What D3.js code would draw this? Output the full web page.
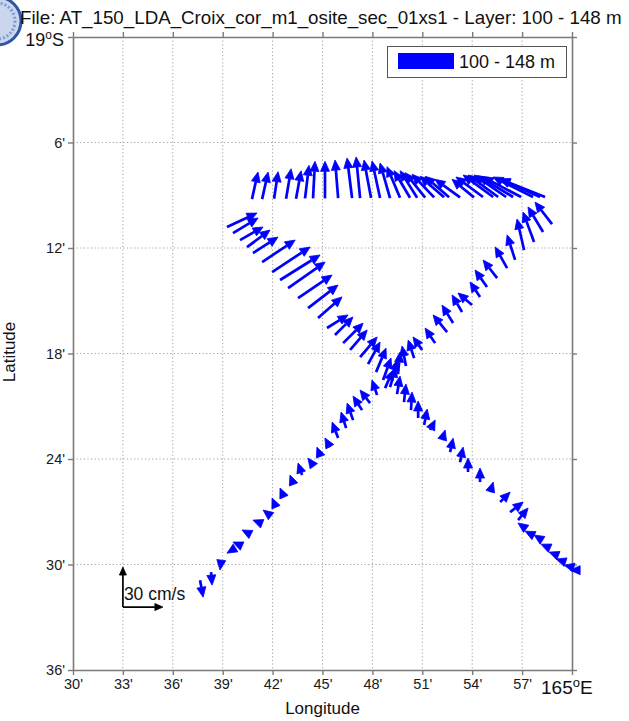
<!DOCTYPE html>
<html>
<head>
<meta charset="utf-8">
<script src="https://cdn.jsdelivr.net/npm/d3@7/dist/d3.min.js"></script>
<style>
  body { margin: 0; background: #fff; }
  svg { display: block; font-family: "Liberation Sans", Arial, sans-serif; }
</style>
</head>
<body>
<svg id="chart" width="629" height="721"></svg>
<script>
// ADCP currents, layer 100 - 148 m.
// Positions: minutes east of 164°E (lon) and minutes south of 19°S (lat).
// Currents: u (eastward) and v (northward) in cm/s.

// Northern leg (west -> east)
const northLon = [40.76, 41.37, 42.09, 42.81, 43.41, 43.95, 44.43, 45.15, 45.94, 46.78, 47.26, 47.92, 48.46, 49.06, 49.66, 50.26, 50.69, 51.17, 51.71, 52.31, 52.61, 53.27, 54.11, 54.65, 55.26, 55.56, 56.04, 56.46, 56.94, 57.66, 58.08, 58.38];
const northLat = [9.22, 9.22, 9.2, 9.2, 9.2, 9.18, 9.18, 9.18, 9.16, 9.16, 9.16, 9.16, 9.16, 9.16, 9.14, 9.14, 9.14, 9.14, 9.12, 9.12, 9.12, 9.12, 9.12, 9.1, 9.1, 9.1, 9.1, 9.1, 9.1, 9.1, 9.1, 9.1];
const northU = [4.5, 4.5, 3, 3.8, 3.8, 3, 1.5, 0, -2.3, -3.8, -3, -5.3, -6, -7.5, -9.8, -12, -12.8, -15, -16.5, -18, -18, -18.8, -16.5, -20.3, -22.5, -22.5, -24, -26.3, -28.5, -30, -30, -33.8];
const northV = [20.3, 20.3, 20.3, 22.5, 21, 24.8, 27.8, 27.8, 28.5, 30, 30.8, 28.5, 27.8, 26.3, 23.3, 20.3, 20.3, 18.8, 17.3, 15.8, 15.8, 13.5, 13.5, 15, 16.5, 16.5, 16.5, 15.8, 15, 15, 13.5, 13.5];

// Diagonal leg running north-east -> south-west
const swLon = [58.80, 58.26, 57.72, 57.12, 56.58, 56.10, 55.50, 54.89, 54.47, 53.99, 53.39, 52.85, 52.49, 51.77, 50.99, 50.51, 50.02, 49.54, 49.18, 48.76, 48.28, 47.86, 47.38, 46.84, 46.42, 45.94, 45.45, 44.85, 44.43, 43.77, 43.23, 42.63, 42.15, 41.67, 41.12, 40.52, 40.04, 39.56, 38.90, 38.30, 37.64];
const swLat = [10.64, 11.09, 11.66, 12.12, 12.68, 13.14, 13.71, 14.22, 14.79, 15.24, 15.64, 16.27, 16.78, 17.41, 17.80, 18.26, 18.71, 19.17, 19.51, 19.97, 20.36, 20.82, 21.22, 21.79, 22.24, 22.81, 23.32, 23.78, 24.35, 24.91, 25.37, 26.05, 26.62, 27.08, 27.59, 28.21, 28.90, 29.18, 29.86, 30.43, 30.89];
const swU = [-12.8, -11.3, -8.3, -5.3, -6, -9, -10.5, -9, -7.5, -10.5, -7.5, -8.3, -10.5, -7.5, -6.8, -4.5, -3, 1.5, 3.8, 6, -3.8, -7.5, -6.8, -4.5, -3.8, -4.5, -3.8, -2.3, -3.8, -3, -2.3, -2.3, -2.3, -3, -3.8, -4.5, -5.3, -3.8, -0.8, 0.8, 2.3];
const swV = [16.5, 18.8, 22.5, 23.3, 18.8, 15.8, 13.5, 12.8, 11.3, 9, 12.8, 13.5, 12.8, 11.3, 9.8, 13.5, 15, 16.5, 15, 13.5, 11.3, 9.8, 10.5, 12.8, 12, 12, 6.8, 6, 5.3, 9, 6, 5.3, 5.3, 2.3, 1.5, 2.3, 2.3, -2.3, -6, -9.8, -12.8];

// Diagonal leg running north-west -> south-east
const seLon = [39.26, 39.62, 40.04, 40.46, 40.82, 41.37, 41.97, 42.45, 42.93, 43.53, 44.13, 44.73, 45.27, 45.75, 46.24, 46.66, 47.26, 47.74, 48.22, 48.64, 49.06, 49.48, 49.90, 50.32, 50.75, 51.11, 51.47, 52.19, 52.67, 53.27, 53.75, 54.47, 55.08, 55.68, 56.28, 56.76, 57.18, 57.66, 58.20, 58.68, 59.10, 59.59, 60.01, 60.37];
const seLat = [10.81, 11.15, 11.55, 11.95, 12.29, 12.80, 13.37, 13.82, 14.28, 14.85, 15.42, 15.98, 16.55, 16.95, 17.41, 17.80, 18.20, 18.60, 19.06, 19.51, 19.91, 20.31, 20.76, 21.22, 21.67, 22.07, 22.35, 22.92, 23.61, 24.18, 24.74, 25.31, 25.88, 26.45, 27.02, 27.47, 27.93, 28.33, 28.61, 29.07, 29.47, 29.86, 30.15, 30.32];
const seU = [22.5, 18.8, 17.3, 17.3, 18.8, 24.8, 28.5, 30, 27.8, 25.5, 22.5, 18, 15.8, 13.5, 15, 12.8, 12.8, 9, 7.5, 6, 4.5, 2.3, 1.5, 0.8, 0, 2.3, 3.8, 2.3, 2.3, 2.3, 0, 0, 2.3, 7.5, 9.8, 7.5, -5.3, -6, -6, -6.8, -6, -6.8, -6, -6];
const seV = [10.5, 11.3, 9.8, 12.8, 12, 16.5, 18.8, 18.8, 19.5, 17.3, 17.3, 15.8, 9.8, 13.5, 15, 15, 15, 16.5, 18, 16.5, 15, 13.5, 13.5, 13.5, 12.8, 12, 7.5, 7.5, 10.5, 11.3, 10.5, 10.5, 7.5, 7.5, 7.5, 9, 3.8, 3, 3.8, 3, 2.3, 2.3, 1.5, 0];

// Axis ticks and labels
const lonTicks = [30, 33, 36, 39, 42, 45, 48, 51, 54, 57, 60];
const lonTickLabels = ["30'", "33'", "36'", "39'", "42'", "45'", "48'", "51'", "54'", "57'", ""];
const latTicks = [0, 6, 12, 18, 24, 30, 36];
const latTickLabels = ["", "6'", "12'", "18'", "24'", "30'", "36'"];

// Reference vector
const refSpeed = 30;           // cm/s
const refLon = 33.0, refLat = 32.42;

const titleText = "File: AT_150_LDA_Croix_cor_m1_osite_sec_01xs1 - Layer: 100 - 148 m";
const legendText = "100 - 148 m";

const svg = d3.select("#chart");
const pLeft = 73, pRight = 572, pTop = 37, pBottom = 670;

const x = d3.scaleLinear().domain([30, 60]).range([pLeft, pRight]);
const y = d3.scaleLinear().domain([0, 36]).range([pTop, pBottom]);
// cm/s -> pixels
const vs = d3.scaleLinear().domain([0, 30]).range([0, 40]);

const axisColor = "#7a7a7a";

// Logo, partly off the page
const logo = svg.append("g");
logo.append("circle").attr("cx", -3).attr("cy", 21).attr("r", 24)
  .attr("fill", "#c9d6ee").attr("stroke", "#2f55a4").attr("stroke-width", 3);
logo.append("circle").attr("cx", -3).attr("cy", 21).attr("r", 18)
  .attr("fill", "none").attr("stroke", "#7f9bd0").attr("stroke-width", 3)
  .attr("stroke-dasharray", "2,2");

// Title, fitted to the page width
const title = svg.append("text").attr("x", 20).attr("y", 24)
  .attr("font-size", 18).attr("fill", "#111").text(titleText);
const tl = title.node().getComputedTextLength();
title.attr("font-size", 18 * 602 / tl);

// Grid
const grid = svg.append("g").attr("stroke", "#a0a0a0").attr("stroke-width", 1)
  .attr("stroke-dasharray", "1.2,2.4");
grid.selectAll("line.v").data(lonTicks.filter(d => d > 30 && d < 60)).join("line")
  .attr("class", "v")
  .attr("x1", d => x(d)).attr("x2", d => x(d)).attr("y1", pTop).attr("y2", pBottom);
grid.selectAll("line.h").data(latTicks.filter(d => d > 0 && d < 36)).join("line")
  .attr("class", "h")
  .attr("y1", d => y(d)).attr("y2", d => y(d)).attr("x1", pLeft).attr("x2", pRight);

// Axes
function styleAxis(g) {
  g.select(".domain").attr("stroke", axisColor).attr("stroke-width", 1.6);
  g.selectAll(".tick line").attr("stroke", axisColor).attr("stroke-width", 1.4);
  g.selectAll(".tick text").attr("fill", "#1a1a1a").attr("font-size", 14.5)
    .attr("font-family", "'Liberation Sans', Arial, sans-serif");
}
svg.append("g").attr("transform", `translate(0,${pBottom})`)
  .call(d3.axisBottom(x).tickValues(lonTicks).tickSize(5).tickSizeOuter(0).tickPadding(4)
    .tickFormat((d, i) => lonTickLabels[i]))
  .call(styleAxis);
svg.append("g").attr("transform", `translate(0,${pTop})`)
  .call(d3.axisTop(x).tickValues(lonTicks).tickSize(5).tickSizeOuter(0).tickFormat(""))
  .call(styleAxis);
svg.append("g").attr("transform", `translate(${pLeft},0)`)
  .call(d3.axisLeft(y).tickValues(latTicks).tickSize(5).tickSizeOuter(0).tickPadding(3)
    .tickFormat((d, i) => latTickLabels[i]))
  .call(styleAxis);
svg.append("g").attr("transform", `translate(${pRight},0)`)
  .call(d3.axisRight(y).tickValues(latTicks).tickSize(5).tickSizeOuter(0).tickFormat(""))
  .call(styleAxis);

// Corner labels with degree signs
const latCorner = svg.append("text").attr("x", 64).attr("y", y(0) + 9)
  .attr("text-anchor", "end").attr("font-size", 18).attr("fill", "#111");
latCorner.append("tspan").text("19");
latCorner.append("tspan").attr("font-size", 12).attr("dy", -7).text("o");
latCorner.append("tspan").attr("dy", 7).text("S");

const lonCorner = svg.append("text").attr("x", x(60) - 31).attr("y", pBottom + 24)
  .attr("font-size", 19).attr("fill", "#111");
lonCorner.append("tspan").text("165");
lonCorner.append("tspan").attr("font-size", 13).attr("dy", -7).text("o");
lonCorner.append("tspan").attr("dy", 7).text("E");

// Axis titles
svg.append("text").attr("x", (pLeft + pRight) / 2).attr("y", 714)
  .attr("text-anchor", "middle").attr("font-size", 17).attr("fill", "#111").text("Longitude");
svg.append("text").attr("transform", "translate(15,352) rotate(-90)")
  .attr("text-anchor", "middle").attr("font-size", 17).attr("fill", "#111").text("Latitude");

// Arrow drawing
function arrow(g, x0, y0, x1, y1, color, width, hl, hw) {
  const dx = x1 - x0, dy = y1 - y0;
  const len = Math.hypot(dx, dy);
  if (len === 0) return;
  const ux = dx / len, uy = dy / len;
  const bx = x1 - ux * hl, by = y1 - uy * hl;
  if (len > hl) {
    g.append("line").attr("x1", x0).attr("y1", y0).attr("x2", bx).attr("y2", by)
      .attr("stroke", color).attr("stroke-width", width);
  }
  g.append("path")
    .attr("d", `M${x1},${y1}L${bx - uy * hw},${by + ux * hw}L${bx + uy * hw},${by - ux * hw}Z`)
    .attr("fill", color).attr("stroke", color).attr("stroke-width", 0.8)
    .attr("stroke-linejoin", "round");
}

const arrows = svg.append("g");
function drawTrack(lon, lat, u, v) {
  lon.forEach((lo, i) => {
    const x0 = x(lo), y0 = y(lat[i]);
    arrow(arrows, x0, y0, x0 + vs(u[i]), y0 - vs(v[i]), "#0000ff", 2.7, 10, 4.5);
  });
}
drawTrack(northLon, northLat, northU, northV);
drawTrack(swLon, swLat, swU, swV);
drawTrack(seLon, seLat, seU, seV);

// Reference vector (30 cm/s east and north)
const rx = x(refLon), ry = y(refLat);
const ref = svg.append("g");
arrow(ref, rx, ry, rx + vs(refSpeed), ry, "#000", 1.7, 8, 3.5);
arrow(ref, rx, ry, rx, ry - vs(refSpeed), "#000", 1.7, 8, 3.5);
ref.append("text").attr("x", rx + 1).attr("y", ry - 7).attr("font-size", 17.5)
  .attr("fill", "#111").text(refSpeed + " cm/s");

// Legend
const lg = svg.append("g");
lg.append("rect").attr("x", 387.5).attr("y", 46.5).attr("width", 179).attr("height", 31)
  .attr("fill", "#fff").attr("stroke", "#555").attr("stroke-width", 1);
lg.append("rect").attr("x", 398).attr("y", 53).attr("width", 56).attr("height", 16)
  .attr("fill", "#0000ff");
lg.append("text").attr("x", 459).attr("y", 68).attr("font-size", 18)
  .attr("fill", "#111").text(legendText);
</script>
</body>
</html>
